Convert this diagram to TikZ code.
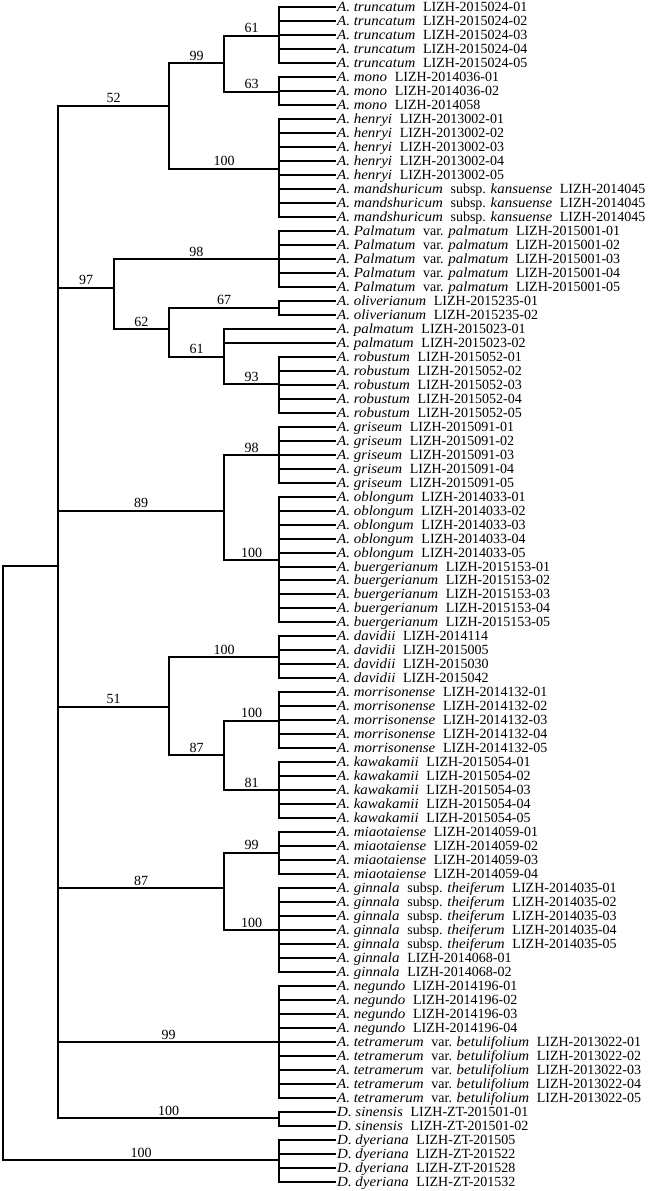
\documentclass[tikz,border=0pt]{standalone}
\usepackage{fontspec}
\setmainfont{Liberation Serif}[ItalicFeatures={FakeStretch=1.07}]
\newcommand\lgap{\hspace{0.55em}}
\newcommand\sn[2]{\textit{#1}\lgap #2}
\tikzset{
  br/.style={line width=2pt, line cap=rect, line join=miter},
  lab/.style={font=\fontsize{14}{16}\selectfont, anchor=base, inner sep=0pt, yshift=3pt, pos=0.75},
  leaflab/.style={font=\fontsize{14}{16}\selectfont, anchor=west, inner xsep=2pt, inner ysep=0pt, text height=10pt, text depth=1pt}
}
\newcommand\lf[3]{\node[leaflab] (L#1) at (335,{7.3+(#1-1)*13.98}) {#3}; \draw[br] (#2) |- (L#1.west);}
\begin{document}
\begin{tikzpicture}[x=1pt,y=-1pt]
\useasboundingbox (0,0) rectangle (649,1191);
\fill[white] (0,0) rectangle (649,1191);
% internal nodes
\coordinate (R) at (3.3,863);
\coordinate (N1) at (58.3,566);
\coordinate (N52) at (169,105.7);
\coordinate (N99) at (224,63.3);
\coordinate (C61) at (279,35.7);
\coordinate (C63) at (279,91.7);
\coordinate (Chen) at (279,168.7);
\coordinate (N97) at (113.7,287.7);
\coordinate (Cpal) at (279,259.3);
\coordinate (N62) at (169,329.3);
\coordinate (C67) at (279,307.7);
\coordinate (N61) at (224,356.7);
\coordinate (C93) at (279,384.3);
\coordinate (N89) at (224,510.7);
\coordinate (Cgri) at (279,455);
\coordinate (Cobl) at (279,560);
\coordinate (N51) at (169,706.7);
\coordinate (Cdav) at (279,657.3);
\coordinate (N87) at (224,755);
\coordinate (Cmor) at (279,720.7);
\coordinate (C81) at (279,790.3);
\coordinate (N87b) at (224,888.3);
\coordinate (Cmia) at (279,852.7);
\coordinate (Cgin) at (279,930);
\coordinate (Cneg) at (279,1042);
\coordinate (Csin) at (279,1118.3);
\coordinate (Cdye) at (279,1160.3);
% branches
\draw[br] (R) |- (N1);
\draw[br] (R) |- node[lab]{100} (Cdye);
\draw[br] (N1) |- node[lab]{52} (N52);
\draw[br] (N52) |- node[lab]{99} (N99);
\draw[br] (N99) |- node[lab]{61} (C61);
\draw[br] (N99) |- node[lab]{63} (C63);
\draw[br] (N52) |- node[lab]{100} (Chen);
\draw[br] (N1) |- node[lab]{97} (N97);
\draw[br] (N97) |- node[lab]{98} (Cpal);
\draw[br] (N97) |- node[lab]{62} (N62);
\draw[br] (N62) |- node[lab]{67} (C67);
\draw[br] (N62) |- node[lab]{61} (N61);
\draw[br] (N61) |- node[lab]{93} (C93);
\draw[br] (N1) |- node[lab]{89} (N89);
\draw[br] (N89) |- node[lab]{98} (Cgri);
\draw[br] (N89) |- node[lab]{100} (Cobl);
\draw[br] (N1) |- node[lab]{51} (N51);
\draw[br] (N51) |- node[lab]{100} (Cdav);
\draw[br] (N51) |- node[lab]{87} (N87);
\draw[br] (N87) |- node[lab]{100} (Cmor);
\draw[br] (N87) |- node[lab]{81} (C81);
\draw[br] (N1) |- node[lab]{87} (N87b);
\draw[br] (N87b) |- node[lab]{99} (Cmia);
\draw[br] (N87b) |- node[lab]{100} (Cgin);
\draw[br] (N1) |- node[lab]{99} (Cneg);
\draw[br] (N1) |- node[lab]{100} (Csin);
% leaves
\lf{1}{C61}{\sn{A. truncatum}{LIZH-2015024-01}}
\lf{2}{C61}{\sn{A. truncatum}{LIZH-2015024-02}}
\lf{3}{C61}{\sn{A. truncatum}{LIZH-2015024-03}}
\lf{4}{C61}{\sn{A. truncatum}{LIZH-2015024-04}}
\lf{5}{C61}{\sn{A. truncatum}{LIZH-2015024-05}}
\lf{6}{C63}{\sn{A. mono}{LIZH-2014036-01}}
\lf{7}{C63}{\sn{A. mono}{LIZH-2014036-02}}
\lf{8}{C63}{\sn{A. mono}{LIZH-2014058}}
\lf{9}{Chen}{\sn{A. henryi}{LIZH-2013002-01}}
\lf{10}{Chen}{\sn{A. henryi}{LIZH-2013002-02}}
\lf{11}{Chen}{\sn{A. henryi}{LIZH-2013002-03}}
\lf{12}{Chen}{\sn{A. henryi}{LIZH-2013002-04}}
\lf{13}{Chen}{\sn{A. henryi}{LIZH-2013002-05}}
\lf{14}{Chen}{\textit{A. mandshuricum}\lgap subsp. \textit{kansuense}\lgap LIZH-2014045}
\lf{15}{Chen}{\textit{A. mandshuricum}\lgap subsp. \textit{kansuense}\lgap LIZH-2014045}
\lf{16}{Chen}{\textit{A. mandshuricum}\lgap subsp. \textit{kansuense}\lgap LIZH-2014045}
\lf{17}{Cpal}{\textit{A. Palmatum}\lgap var. \textit{palmatum}\lgap LIZH-2015001-01}
\lf{18}{Cpal}{\textit{A. Palmatum}\lgap var. \textit{palmatum}\lgap LIZH-2015001-02}
\lf{19}{Cpal}{\textit{A. Palmatum}\lgap var. \textit{palmatum}\lgap LIZH-2015001-03}
\lf{20}{Cpal}{\textit{A. Palmatum}\lgap var. \textit{palmatum}\lgap LIZH-2015001-04}
\lf{21}{Cpal}{\textit{A. Palmatum}\lgap var. \textit{palmatum}\lgap LIZH-2015001-05}
\lf{22}{C67}{\sn{A. oliverianum}{LIZH-2015235-01}}
\lf{23}{C67}{\sn{A. oliverianum}{LIZH-2015235-02}}
\lf{24}{N61}{\sn{A. palmatum}{LIZH-2015023-01}}
\lf{25}{N61}{\sn{A. palmatum}{LIZH-2015023-02}}
\lf{26}{C93}{\sn{A. robustum}{LIZH-2015052-01}}
\lf{27}{C93}{\sn{A. robustum}{LIZH-2015052-02}}
\lf{28}{C93}{\sn{A. robustum}{LIZH-2015052-03}}
\lf{29}{C93}{\sn{A. robustum}{LIZH-2015052-04}}
\lf{30}{C93}{\sn{A. robustum}{LIZH-2015052-05}}
\lf{31}{Cgri}{\sn{A. griseum}{LIZH-2015091-01}}
\lf{32}{Cgri}{\sn{A. griseum}{LIZH-2015091-02}}
\lf{33}{Cgri}{\sn{A. griseum}{LIZH-2015091-03}}
\lf{34}{Cgri}{\sn{A. griseum}{LIZH-2015091-04}}
\lf{35}{Cgri}{\sn{A. griseum}{LIZH-2015091-05}}
\lf{36}{Cobl}{\sn{A. oblongum}{LIZH-2014033-01}}
\lf{37}{Cobl}{\sn{A. oblongum}{LIZH-2014033-02}}
\lf{38}{Cobl}{\sn{A. oblongum}{LIZH-2014033-03}}
\lf{39}{Cobl}{\sn{A. oblongum}{LIZH-2014033-04}}
\lf{40}{Cobl}{\sn{A. oblongum}{LIZH-2014033-05}}
\lf{41}{Cobl}{\sn{A. buergerianum}{LIZH-2015153-01}}
\lf{42}{Cobl}{\sn{A. buergerianum}{LIZH-2015153-02}}
\lf{43}{Cobl}{\sn{A. buergerianum}{LIZH-2015153-03}}
\lf{44}{Cobl}{\sn{A. buergerianum}{LIZH-2015153-04}}
\lf{45}{Cobl}{\sn{A. buergerianum}{LIZH-2015153-05}}
\lf{46}{Cdav}{\sn{A. davidii}{LIZH-2014114}}
\lf{47}{Cdav}{\sn{A. davidii}{LIZH-2015005}}
\lf{48}{Cdav}{\sn{A. davidii}{LIZH-2015030}}
\lf{49}{Cdav}{\sn{A. davidii}{LIZH-2015042}}
\lf{50}{Cmor}{\sn{A. morrisonense}{LIZH-2014132-01}}
\lf{51}{Cmor}{\sn{A. morrisonense}{LIZH-2014132-02}}
\lf{52}{Cmor}{\sn{A. morrisonense}{LIZH-2014132-03}}
\lf{53}{Cmor}{\sn{A. morrisonense}{LIZH-2014132-04}}
\lf{54}{Cmor}{\sn{A. morrisonense}{LIZH-2014132-05}}
\lf{55}{C81}{\sn{A. kawakamii}{LIZH-2015054-01}}
\lf{56}{C81}{\sn{A. kawakamii}{LIZH-2015054-02}}
\lf{57}{C81}{\sn{A. kawakamii}{LIZH-2015054-03}}
\lf{58}{C81}{\sn{A. kawakamii}{LIZH-2015054-04}}
\lf{59}{C81}{\sn{A. kawakamii}{LIZH-2015054-05}}
\lf{60}{Cmia}{\sn{A. miaotaiense}{LIZH-2014059-01}}
\lf{61}{Cmia}{\sn{A. miaotaiense}{LIZH-2014059-02}}
\lf{62}{Cmia}{\sn{A. miaotaiense}{LIZH-2014059-03}}
\lf{63}{Cmia}{\sn{A. miaotaiense}{LIZH-2014059-04}}
\lf{64}{Cgin}{\textit{A. ginnala}\lgap subsp. \textit{theiferum}\lgap LIZH-2014035-01}
\lf{65}{Cgin}{\textit{A. ginnala}\lgap subsp. \textit{theiferum}\lgap LIZH-2014035-02}
\lf{66}{Cgin}{\textit{A. ginnala}\lgap subsp. \textit{theiferum}\lgap LIZH-2014035-03}
\lf{67}{Cgin}{\textit{A. ginnala}\lgap subsp. \textit{theiferum}\lgap LIZH-2014035-04}
\lf{68}{Cgin}{\textit{A. ginnala}\lgap subsp. \textit{theiferum}\lgap LIZH-2014035-05}
\lf{69}{Cgin}{\sn{A. ginnala}{LIZH-2014068-01}}
\lf{70}{Cgin}{\sn{A. ginnala}{LIZH-2014068-02}}
\lf{71}{Cneg}{\sn{A. negundo}{LIZH-2014196-01}}
\lf{72}{Cneg}{\sn{A. negundo}{LIZH-2014196-02}}
\lf{73}{Cneg}{\sn{A. negundo}{LIZH-2014196-03}}
\lf{74}{Cneg}{\sn{A. negundo}{LIZH-2014196-04}}
\lf{75}{Cneg}{\textit{A. tetramerum}\lgap var. \textit{betulifolium}\lgap LIZH-2013022-01}
\lf{76}{Cneg}{\textit{A. tetramerum}\lgap var. \textit{betulifolium}\lgap LIZH-2013022-02}
\lf{77}{Cneg}{\textit{A. tetramerum}\lgap var. \textit{betulifolium}\lgap LIZH-2013022-03}
\lf{78}{Cneg}{\textit{A. tetramerum}\lgap var. \textit{betulifolium}\lgap LIZH-2013022-04}
\lf{79}{Cneg}{\textit{A. tetramerum}\lgap var. \textit{betulifolium}\lgap LIZH-2013022-05}
\lf{80}{Csin}{\sn{D. sinensis}{LIZH-ZT-201501-01}}
\lf{81}{Csin}{\sn{D. sinensis}{LIZH-ZT-201501-02}}
\lf{82}{Cdye}{\sn{D. dyeriana}{LIZH-ZT-201505}}
\lf{83}{Cdye}{\sn{D. dyeriana}{LIZH-ZT-201522}}
\lf{84}{Cdye}{\sn{D. dyeriana}{LIZH-ZT-201528}}
\lf{85}{Cdye}{\sn{D. dyeriana}{LIZH-ZT-201532}}
\end{tikzpicture}
\end{document}
